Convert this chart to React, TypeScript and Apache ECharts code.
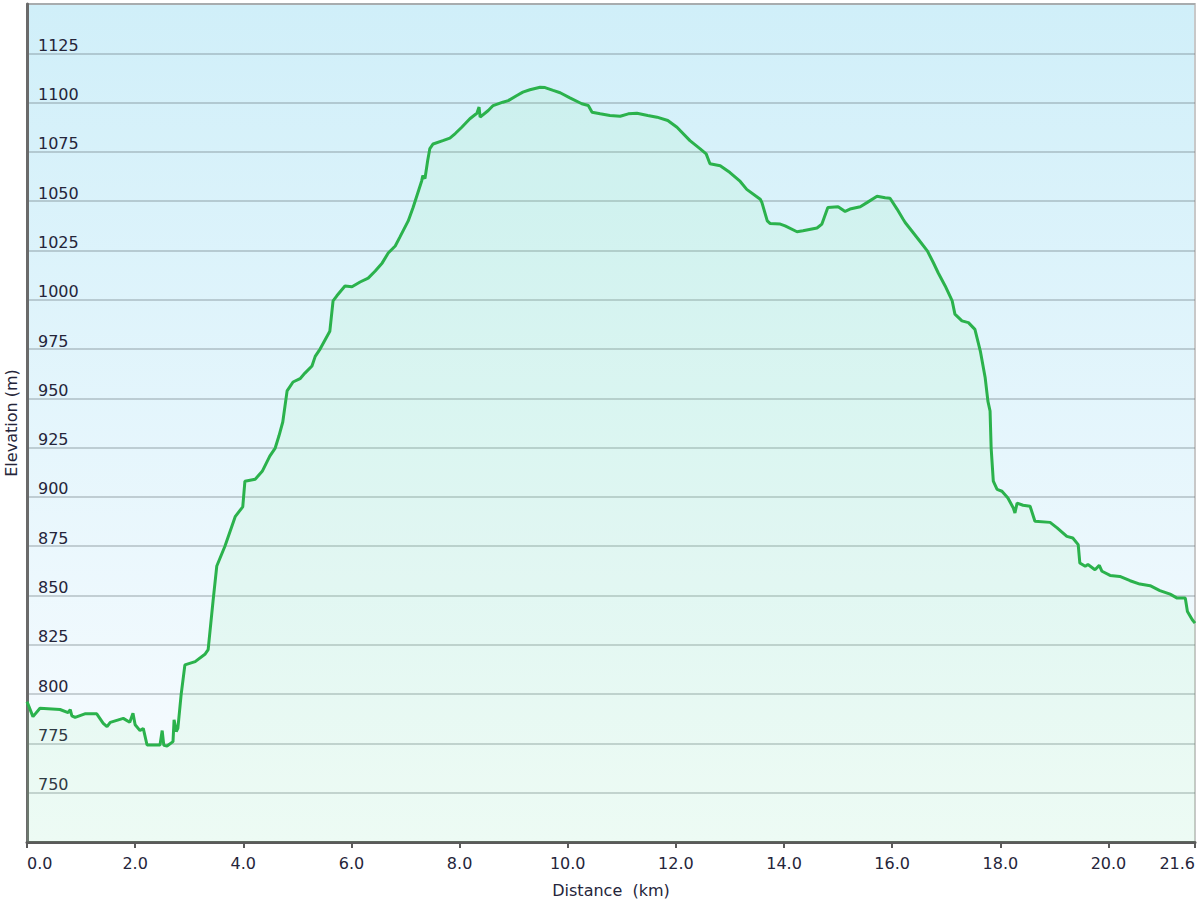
import React, { useEffect, useRef } from "react";
import * as echarts from "echarts";

const distanceKm = [
  0, 0.11, 0.24, 0.61, 0.76, 0.8, 0.83, 0.89, 1.07, 1.29, 1.41, 1.48, 1.54, 1.78, 1.9, 1.96, 2.0,
  2.09, 2.15, 2.22, 2.46, 2.5, 2.53, 2.59, 2.7, 2.72, 2.76, 2.79, 2.85, 2.92, 3.11, 3.29,
  3.35, 3.44, 3.51, 3.66, 3.85, 3.99, 4.03, 4.22, 4.35, 4.49, 4.59, 4.66, 4.73, 4.81, 4.92,
  5.05, 5.14, 5.27, 5.33, 5.42, 5.6, 5.66, 5.73, 5.88, 6.01, 6.16, 6.31, 6.44, 6.57, 6.68,
  6.81, 6.9, 7.05, 7.14, 7.3, 7.32, 7.36, 7.41, 7.45, 7.51, 7.69, 7.82, 7.92, 8.04, 8.19,
  8.32, 8.36, 8.38, 8.53, 8.62, 8.8, 8.9, 9.06, 9.17, 9.3, 9.49, 9.58, 9.73, 9.86, 10.04,
  10.26, 10.38, 10.45, 10.6, 10.78, 10.97, 11.12, 11.28, 11.48, 11.65, 11.85, 12.02, 12.26,
  12.45, 12.56, 12.63, 12.82, 13.0, 13.19, 13.31, 13.56, 13.59, 13.69, 13.74, 13.93, 14.02,
  14.24, 14.35, 14.61, 14.7, 14.81, 15.0, 15.13, 15.22, 15.41, 15.54, 15.72, 15.87, 15.96,
  16.09, 16.2, 16.24, 16.48, 16.65, 16.76, 16.85, 16.98, 17.11, 17.16, 17.29, 17.41, 17.53,
  17.63, 17.72, 17.77, 17.81, 17.83, 17.87, 17.94, 18.03, 18.14, 18.24, 18.27, 18.31, 18.42,
  18.55, 18.64, 18.92, 19.05, 19.23, 19.34, 19.44, 19.47, 19.57, 19.62, 19.75, 19.83, 19.88,
  20.03, 20.21, 20.4, 20.58, 20.77, 20.95, 21.14, 21.27, 21.42, 21.46, 21.55, 21.6,
];

const elevationM = [
  796.2, 788.6, 792.8, 792.2, 790.6, 792.1, 789.0, 788.2, 790.0, 790.0, 785.2, 783.5, 785.7, 787.7, 785.7, 790.3, 784.5,
  781.5, 782.6, 774.2, 774.2, 781.5, 774.0, 773.7, 775.9, 787.0, 781.0, 782.6, 799.6, 814.8, 816.5, 820.2,
  822.6, 847.0, 865.0, 875.0, 890.0, 895.0, 908.0, 909.0, 913.0, 920.7, 924.8, 931.0, 938.0, 953.8, 958.3,
  960.0, 962.8, 966.4, 971.3, 975.0, 984.0, 999.4, 1002.0, 1007.0, 1006.6, 1009.0, 1011.0, 1014.6, 1018.7, 1023.7,
  1027.3, 1032.0, 1040.0, 1046.8, 1060.4, 1063.0, 1061.5, 1070.6, 1076.7, 1079.0, 1080.7, 1082.0, 1084.3, 1087.5, 1091.8,
  1094.6, 1097.7, 1092.6, 1096.0, 1098.5, 1100.2, 1101.0, 1103.6, 1105.3, 1106.5, 1107.8, 1107.6, 1106.2, 1105.0, 1102.4,
  1099.4, 1098.5, 1095.1, 1094.3, 1093.5, 1093.1, 1094.3, 1094.6, 1093.5, 1092.6, 1090.9, 1087.5, 1080.7,
  1076.5, 1074.0, 1069.0, 1068.0, 1064.5, 1060.0, 1056.0, 1051.0, 1049.4, 1040.0, 1038.7, 1038.4, 1037.5,
  1034.5, 1035.0, 1036.4, 1038.4, 1046.8, 1047.2, 1044.8, 1046.0, 1047.2, 1049.4, 1052.5, 1051.7, 1051.5,
  1046.0, 1041.0, 1039.2, 1030.8, 1024.8, 1018.9, 1013.7, 1007.0, 999.4, 992.7, 989.3, 988.4, 985.0,
  974.0, 960.4, 948.6, 943.6, 924.9, 908.0, 903.8, 902.9, 899.5, 894.4, 891.9, 896.9, 895.8,
  895.3, 887.7, 887.1, 884.3, 880.0, 879.2, 875.8, 866.5, 864.8, 865.7, 863.1, 865.3, 862.3,
  860.2, 859.7, 857.5, 855.8, 855.0, 852.5, 850.7, 848.7, 848.7, 841.9, 837.7, 836.0,
];

const xAxisTitle = "Distance  (km)";
const yAxisTitle = "Elevation (m)";

const FONT = 'Verdana, "DejaVu Sans", sans-serif';
const TEXT = "#25253a";

export default function App() {
  const ref = useRef<HTMLDivElement>(null);
  useEffect(() => {
    if (!ref.current) return;
    const chart = echarts.init(ref.current, undefined, { renderer: "svg" });
    const points = distanceKm.map((d, i) => [d, elevationM[i]]);
    chart.setOption({
      animation: false,
      backgroundColor: "#ffffff",
      textStyle: { fontFamily: FONT },
      grid: {
        left: 27,
        right: 5,
        top: 4,
        bottom: 58,
        outerBoundsMode: "none",
        containLabel: false,
        show: true,
        borderColor: "#c8c8c8",
        borderWidth: 2,
        backgroundColor: new echarts.graphic.LinearGradient(0, 0, 0, 1, [
          { offset: 0, color: "#d0eff9" },
          { offset: 1, color: "#f9fcff" },
        ]),
      },
      xAxis: {
        type: "value",
        min: 0,
        max: 21.6,
        interval: 2,
        name: xAxisTitle,
        nameLocation: "middle",
        nameGap: 40,
        nameTextStyle: { color: TEXT, fontSize: 16, fontFamily: FONT },
        axisLine: { show: true, lineStyle: { color: "#5a5a5a", width: 3 } },
        axisTick: { show: true, length: 6, lineStyle: { color: "#5a5a5a", width: 2 } },
        axisLabel: {
          color: TEXT,
          fontSize: 16,
          fontFamily: FONT,
          margin: 13,
          alignMinLabel: "left",
          alignMaxLabel: "right",
          formatter: (v: number) => v.toFixed(1),
        },
        splitLine: { show: false },
      },
      yAxis: {
        type: "value",
        min: 725,
        max: 1150,
        interval: 25,
        name: yAxisTitle,
        nameLocation: "middle",
        nameGap: 6,
        nameTextStyle: { color: TEXT, fontSize: 16, fontFamily: FONT },
        axisLine: { show: true, lineStyle: { color: "#6a6a6a", width: 3 } },
        axisTick: { show: false },
        axisLabel: {
          inside: true,
          margin: 11,
          align: "left",
          verticalAlign: "bottom",
          color: TEXT,
          fontSize: 16,
          fontFamily: FONT,
          showMinLabel: false,
          showMaxLabel: false,
          formatter: (v: number) => String(v),
        },
        splitLine: { show: true, lineStyle: { color: "rgba(95,110,115,0.3)", width: 2 } },
      },
      series: [
        {
          type: "line",
          data: points,
          showSymbol: false,
          symbol: "none",
          smooth: false,
          lineStyle: { color: "#2bb24c", width: 3 },
          areaStyle: { color: "rgb(140,250,150)", opacity: 0.1 },
          z: 3,
        },
      ],
    });
    return () => chart.dispose();
  }, []);
  return (
    <div
      ref={ref}
      style={{ position: "fixed", left: 0, top: 0, width: 1200, height: 900 }}
    />
  );
}
